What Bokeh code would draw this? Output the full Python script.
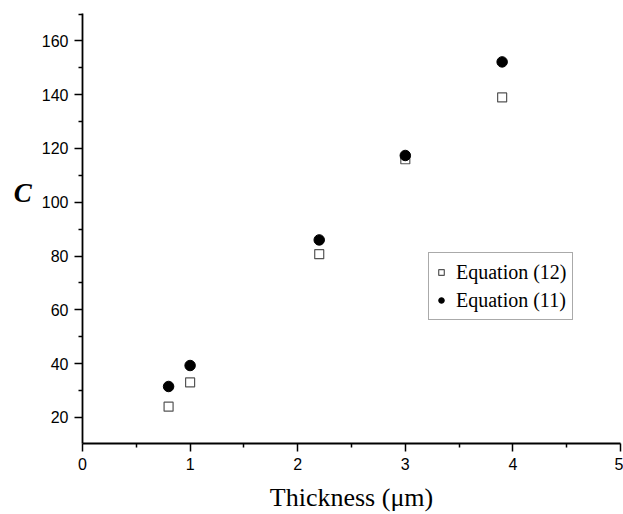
from bokeh.plotting import figure
from bokeh.models import Range1d, FixedTicker, Legend, LegendItem
from bokeh.embed import file_html
from bokeh.resources import INLINE

thickness = [0.8, 1.0, 2.2, 3.0, 3.9]
eq12 = [24.0, 33.0, 80.7, 116.0, 139.0]
eq11 = [31.5, 39.3, 86.0, 117.4, 152.2]
x_ticks = [0, 1, 2, 3, 4, 5]
y_ticks = [20, 40, 60, 80, 100, 120, 140, 160]

p = figure(width=623, height=514, output_backend="svg", toolbar_location=None,
           x_range=Range1d(0, 5), y_range=Range1d(10.3, 170.2),
           min_border_left=82, min_border_right=3, min_border_top=13, min_border_bottom=70)
p.outline_line_color = None
p.grid.visible = False
p.background_fill_color = "white"
p.border_fill_color = "white"

r12 = p.scatter(thickness, eq12, marker="square", size=9, fill_color="white",
                line_color="#555555", line_width=1.2)
r11 = p.scatter(thickness, eq11, marker="circle", size=10.5, fill_color="black",
                line_color="black")

for ax, ticks in ((p.xaxis[0], x_ticks), (p.yaxis[0], y_ticks)):
    step = ticks[1] - ticks[0]
    ax.ticker = FixedTicker(ticks=ticks, minor_ticks=[t - step / 2 for t in ticks] + [ticks[-1] + step / 2])
    ax.axis_line_width = 1.8
    ax.axis_line_color = "black"
    ax.major_tick_line_width = 1.5
    ax.minor_tick_line_width = 1.5
    ax.major_tick_in = 0
    ax.major_tick_out = 8
    ax.minor_tick_in = 0
    ax.minor_tick_out = 4
    ax.major_label_text_font = "Liberation Sans"
    ax.major_label_text_font_size = "16px"
    ax.major_label_text_color = "black"
    ax.major_label_standoff = 6

p.xaxis[0].axis_label = "Thickness (μm)"
p.xaxis[0].axis_label_text_font = "Liberation Serif"
p.xaxis[0].axis_label_text_font_size = "26px"
p.xaxis[0].axis_label_text_font_style = "normal"
p.xaxis[0].axis_label_text_color = "black"
p.xaxis[0].axis_label_standoff = 10

p.yaxis[0].axis_label = "C\n\u00a0\n\u00a0"
p.yaxis[0].axis_label_orientation = "horizontal"
p.yaxis[0].axis_label_text_font = "Liberation Serif"
p.yaxis[0].axis_label_text_font_size = "27px"
p.yaxis[0].axis_label_text_font_style = "bold italic"
p.yaxis[0].axis_label_text_color = "black"
p.yaxis[0].axis_label_standoff = 7

legend = Legend(items=[LegendItem(label="Equation (12)", renderers=[r12]),
                       LegendItem(label="Equation (11)", renderers=[r11])],
                location=(346, 123))
legend.label_text_font = "Liberation Serif"
legend.label_text_font_size = "20px"
legend.label_text_color = "black"
legend.label_height = 28
legend.glyph_height = 20
legend.glyph_width = 14
legend.label_standoff = 8
legend.padding = 5
legend.spacing = 0
legend.margin = 0
legend.border_line_color = "#555555"
legend.border_line_width = 1
p.add_layout(legend)

open("out.html", "w").write(file_html(p, INLINE))
